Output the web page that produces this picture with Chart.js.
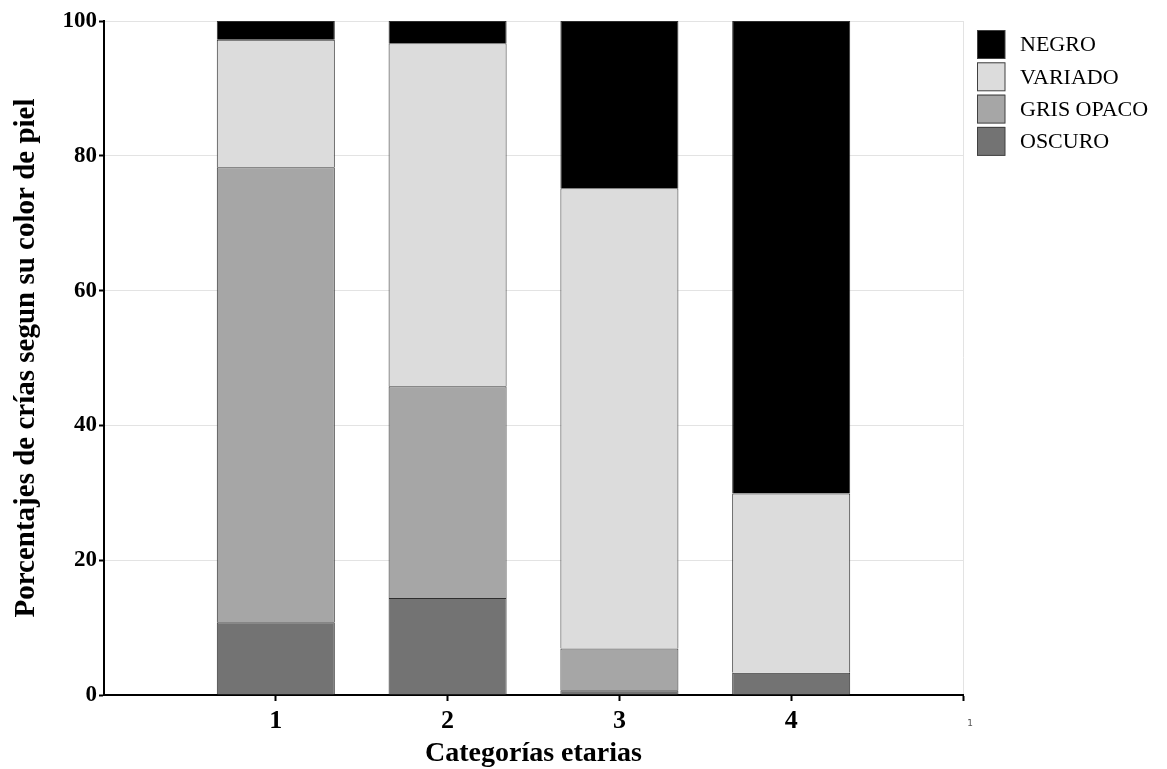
<!DOCTYPE html>
<html><head><meta charset="utf-8">
<script src="https://cdn.jsdelivr.net/npm/chart.js@4.4.1/dist/chart.umd.min.js"></script>
<style>html,body{margin:0;padding:0;background:#fff}#wrap{width:1167px;height:769px}</style>
</head><body><div id="wrap"><canvas id="c" width="1167" height="769"></canvas></div>
<script>
const categories = ['', '1', '2', '3', '4', ''];
const oscuro    = [null, 10.8, 14.4, 0.7, 3.3, null];
const grisOpaco = [null, 67.5, 31.4, 6.2, 0.0, null];
const variado   = [null, 18.9, 50.9, 68.3, 26.6, null];
const negro     = [null, 2.8, 3.3, 24.8, 70.1, null];
const yTicks = [0, 20, 40, 60, 80, 100];

const serif = '"Liberation Serif", "DejaVu Serif", serif';
const mk = (label, data, color) => ({label, data, backgroundColor: color, borderColor: '#2e2e2e', borderWidth: 1, barPercentage: 0.687, categoryPercentage: 1});

const customLegend = {
  id: 'customLegend',
  afterDraw(chart) {
    const c = chart.ctx;
    const ds = chart.data.datasets.slice().reverse();
    const x0 = chart.chartArea.right + 14;
    const y0 = 30;
    c.save();
    c.font = '22px ' + serif;
    c.textAlign = 'left';
    c.textBaseline = 'middle';
    ds.forEach((d, i) => {
      const y = y0 + i * 32.3;
      c.fillStyle = d.backgroundColor;
      c.fillRect(x0, y, 28, 28.5);
      c.strokeStyle = '#404040';
      c.lineWidth = 1;
      c.strokeRect(x0 + 0.5, y + 0.5, 27.5, 28);
      c.fillStyle = '#000';
      c.fillText(d.label, x0 + 43, y + 15.5);
    });
    // small stray mark below the axis end
    c.fillStyle = '#555';
    c.font = '9px "DejaVu Sans", sans-serif';
    c.textAlign = 'center';
    c.fillText('1', chart.chartArea.right + 7, chart.chartArea.bottom + 29);
    c.restore();
  }
};

new Chart(document.getElementById('c'), {
  type: 'bar',
  data: {
    labels: categories,
    datasets: [
      mk('OSCURO', oscuro, '#737373'),
      mk('GRIS OPACO', grisOpaco, '#a6a6a6'),
      mk('VARIADO', variado, '#dcdcdc'),
      mk('NEGRO', negro, '#000000')
    ]
  },
  options: {
    responsive: false,
    animation: false,
    layout: {padding: {left: 8, right: 204, top: 21, bottom: 0}},
    plugins: {
      legend: {display: false},
      tooltip: {enabled: false}
    },
    scales: {
      x: {
        stacked: true, offset: false,
        afterFit: (axis) => { axis.height = 74; },
        grid: {
          offset: false,
          color: (ctx) => ctx.index === 5 ? '#e3e3e3' : 'rgba(0,0,0,0)',
          tickColor: (ctx) => (ctx.index >= 1) ? '#000' : 'rgba(0,0,0,0)',
          tickLength: 6, tickWidth: 2
        },
        border: {color: '#000', width: 2},
        ticks: {color: '#000', font: {family: serif, size: 26, weight: 'bold'}, padding: 5, maxRotation: 0, autoSkip: false},
        title: {display: true, text: 'Categorías etarias', color: '#000', font: {family: serif, size: 28, weight: 'bold', lineHeight: 1.1}, padding: {top: 0, bottom: 0}}
      },
      y: {
        stacked: true, min: 0, max: 100,
        afterFit: (axis) => { axis.width = 96; },
        afterBuildTicks: (axis) => { axis.ticks = yTicks.map(v => ({value: v})); },
        grid: {color: '#e3e3e3', tickColor: '#000', tickLength: 5, tickWidth: 2},
        border: {color: '#000', width: 2},
        ticks: {color: '#000', font: {family: serif, size: 23, weight: 'bold'}, padding: 2},
        title: {display: true, text: 'Porcentajes de crías segun su color de piel', color: '#000', font: {family: serif, size: 29, weight: 'bold'}, padding: {top: 1, bottom: 0}}
      }
    }
  },
  plugins: [customLegend]
});
</script></body></html>
